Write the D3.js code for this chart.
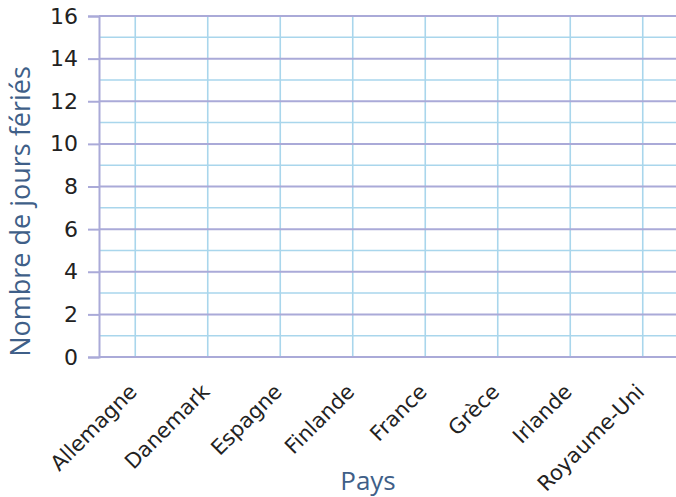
<!DOCTYPE html>
<html>
<head>
<meta charset="utf-8">
<script src="https://cdn.jsdelivr.net/npm/d3@7"></script>
<style>
  body { margin: 0; background: #fff; }
  svg { display: block; }
</style>
</head>
<body>
<div id="chart"></div>
<script>
// Data
const pays = ['Allemagne', 'Danemark', 'Espagne', 'Finlande', 'France', 'Grèce', 'Irlande', 'Royaume-Uni'];
const joursFeries = [];   // aucune valeur tracée dans la figure
const yMajorTicks = [0, 2, 4, 6, 8, 10, 12, 14, 16];
const yMinorTicks = [1, 3, 5, 7, 9, 11, 13, 15];

// Constant
const width = 676;
const height = 497;
const margin = {top: 16, right: -3, bottom: 140, left: 99};
const innerWidth = width - margin.left - margin.right;
const innerHeight = height - margin.top - margin.bottom;

const majorColor = '#aaaad8';
const minorColor = '#a9d6ec';
const tickFont = 'DejaVu Sans, sans-serif';
const titleFont = 'Open Sans, Noto Sans, sans-serif';
const titleColor = '#3f5f88';

const svg = d3.select('#chart')
    .append('svg')
        .attr('width', width)
        .attr('height', height);

const g = svg.append('g')
    .attr('transform', `translate(${margin.left},${margin.top})`);

const xScale = d3.scaleBand()
    .domain(pays)
    .range([0, innerWidth]);

const yScale = d3.scaleLinear()
    .domain([0, 16])
    .range([innerHeight, 0]);

// minor grid
g.selectAll('.minor')
    .data(yMinorTicks)
    .join('line')
        .attr('class', 'minor')
        .attr('x1', 0)
        .attr('x2', innerWidth)
        .attr('y1', d => yScale(d))
        .attr('y2', d => yScale(d))
        .attr('stroke', minorColor)
        .attr('stroke-width', 1.6);

// vertical grid at categories
g.selectAll('.vgrid')
    .data(pays)
    .join('line')
        .attr('class', 'vgrid')
        .attr('x1', d => xScale(d) + xScale.bandwidth() / 2)
        .attr('x2', d => xScale(d) + xScale.bandwidth() / 2)
        .attr('y1', 0)
        .attr('y2', innerHeight)
        .attr('stroke', minorColor)
        .attr('stroke-width', 1.6);

// major grid
g.selectAll('.major')
    .data(yMajorTicks)
    .join('line')
        .attr('class', 'major')
        .attr('x1', 0)
        .attr('x2', innerWidth)
        .attr('y1', d => yScale(d))
        .attr('y2', d => yScale(d))
        .attr('stroke', majorColor)
        .attr('stroke-width', 2);

// bars (none in the figure)
g.selectAll('.bar')
    .data(joursFeries)
    .join('rect')
        .attr('class', 'bar')
        .attr('x', (d, i) => xScale(pays[i]))
        .attr('width', xScale.bandwidth())
        .attr('y', d => yScale(d))
        .attr('height', d => innerHeight - yScale(d));

// y axis
const yAxis = g.append('g')
    .call(d3.axisLeft(yScale).tickValues(yMajorTicks).tickSize(11).tickPadding(10))
    .call(a => a.select('.domain').attr('stroke', majorColor).attr('stroke-width', 2))
    .call(a => a.selectAll('.tick line').attr('stroke', majorColor).attr('stroke-width', 2))
    .call(a => a.selectAll('.tick text')
        .style('font-family', tickFont)
        .style('font-size', '22px')
        .attr('fill', '#222'));

// x axis
const xAxis = g.append('g')
    .attr('transform', `translate(0,${innerHeight})`)
    .call(d3.axisBottom(xScale).tickSize(0))
    .call(a => a.select('.domain').remove())
    .call(a => a.selectAll('.tick text')
        .attr('y', 0)
        .attr('dy', 0)
        .attr('text-anchor', 'end')
        .attr('transform', 'translate(3,36) rotate(-45)')
        .style('font-family', tickFont)
        .style('font-size', '21px')
        .attr('fill', '#222'));

// titles
svg.append('text')
    .attr('transform', `translate(30,${margin.top + innerHeight / 2 + 25}) rotate(-90)`)
    .attr('text-anchor', 'middle')
    .style('font-family', titleFont)
    .style('font-size', '27px')
    .attr('fill', titleColor)
    .text('Nombre de jours fériés');

svg.append('text')
    .attr('x', 368)
    .attr('y', 490)
    .attr('text-anchor', 'middle')
    .style('font-family', titleFont)
    .style('font-size', '26px')
    .attr('fill', titleColor)
    .text('Pays');
</script>
</body>
</html>
